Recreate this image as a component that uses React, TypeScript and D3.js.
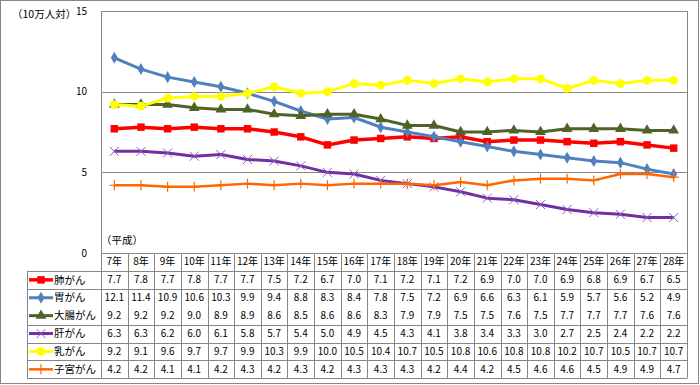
import * as d3 from 'd3'

const YEARS = ['7年', '8年', '9年', '10年', '11年', '12年', '13年', '14年', '15年', '16年', '17年', '18年', '19年', '20年', '21年', '22年', '23年', '24年', '25年', '26年', '27年', '28年']

const LUNG = [7.7, 7.8, 7.7, 7.8, 7.7, 7.7, 7.5, 7.2, 6.7, 7.0, 7.1, 7.2, 7.1, 7.2, 6.9, 7.0, 7.0, 6.9, 6.8, 6.9, 6.7, 6.5]
const STOMACH = [12.1, 11.4, 10.9, 10.6, 10.3, 9.9, 9.4, 8.8, 8.3, 8.4, 7.8, 7.5, 7.2, 6.9, 6.6, 6.3, 6.1, 5.9, 5.7, 5.6, 5.2, 4.9]
const COLON = [9.2, 9.2, 9.2, 9.0, 8.9, 8.9, 8.6, 8.5, 8.6, 8.6, 8.3, 7.9, 7.9, 7.5, 7.5, 7.6, 7.5, 7.7, 7.7, 7.7, 7.6, 7.6]
const LIVER = [6.3, 6.3, 6.2, 6.0, 6.1, 5.8, 5.7, 5.4, 5.0, 4.9, 4.5, 4.3, 4.1, 3.8, 3.4, 3.3, 3.0, 2.7, 2.5, 2.4, 2.2, 2.2]
const BREAST = [9.2, 9.1, 9.6, 9.7, 9.7, 9.9, 10.3, 9.9, 10.0, 10.5, 10.4, 10.7, 10.5, 10.8, 10.6, 10.8, 10.8, 10.2, 10.7, 10.5, 10.7, 10.7]
const UTERUS = [4.2, 4.2, 4.1, 4.1, 4.2, 4.3, 4.2, 4.3, 4.2, 4.3, 4.3, 4.3, 4.2, 4.4, 4.2, 4.5, 4.6, 4.6, 4.5, 4.9, 4.9, 4.7]

const Y_TICKS = [0, 5, 10, 15]

type Marker = 'square' | 'diamond' | 'triangle' | 'x' | 'circle' | 'plus'

const SERIES: { name: string; values: number[]; color: string; markColor: string; width: number; marker: Marker }[] = [
  { name: '肺がん', values: LUNG, color: '#FF0000', markColor: '#FF0000', width: 3.5, marker: 'square' },
  { name: '胃がん', values: STOMACH, color: '#4F81BD', markColor: '#4F81BD', width: 3, marker: 'diamond' },
  { name: '大腸がん', values: COLON, color: '#4F6228', markColor: '#4F6228', width: 3, marker: 'triangle' },
  { name: '肝がん', values: LIVER, color: '#7030A0', markColor: '#8B5CC8', width: 3, marker: 'x' },
  { name: '乳がん', values: BREAST, color: '#FFFF00', markColor: '#FFFF00', width: 3, marker: 'circle' },
  { name: '子宮がん', values: UTERUS, color: '#FF6600', markColor: '#FF6600', width: 2.5, marker: 'plus' },
]

const W = 700
const H = 385
const LEFT = 101
const RIGHT = 687
const TOP = 11
const BOTTOM = 253
const LEG_LEFT = 27
const ROW_H = 17.9
const GRID = '#868686'
const FONT = "'Noto Sans CJK JP', 'Noto Sans', sans-serif"

function MarkerShape({ kind, x, y, color }: { kind: Marker; x: number; y: number; color: string }) {
  if (kind === 'x') {
    const r = 4.5
    return (
      <path d={`M${x - r},${y - r}L${x + r},${y + r}M${x - r},${y + r}L${x + r},${y - r}`} stroke={color} strokeWidth={1} fill="none" />
    )
  }
  if (kind === 'plus') {
    const r = 5
    return (
      <path d={`M${x},${y - r}L${x},${y + r}M${x - r},${y}L${x + r},${y}`} stroke={color} strokeWidth={1.2} fill="none" />
    )
  }
  const type =
    kind === 'square' ? d3.symbolSquare
    : kind === 'diamond' ? d3.symbolDiamond
    : kind === 'triangle' ? d3.symbolTriangle
    : d3.symbolCircle
  const size = kind === 'square' ? 56 : kind === 'diamond' ? 42 : kind === 'triangle' ? 50 : 60
  const d = d3.symbol().type(type).size(size)()
  return <path d={d ?? ''} transform={`translate(${x},${y})`} fill={color} />
}

export default function App() {
  const x = d3.scaleBand<string>().domain(YEARS).range([LEFT, RIGHT]).padding(0)
  const y = d3.scaleLinear().domain([0, 15]).range([BOTTOM, TOP])
  const bw = x.bandwidth()
  const cx = (i: number) => (x(YEARS[i]) ?? 0) + bw / 2

  const rowTop = (r: number) => BOTTOM + ROW_H * r
  const tableBottom = rowTop(SERIES.length + 1)

  return (
    <svg width={W} height={H} style={{ position: 'absolute', left: 0, top: 0, background: '#fff' }} fontFamily={FONT}>
      <rect x={0.5} y={0.5} width={698} height={383} fill="#fff" stroke={GRID} />

      {/* plot area */}
      {Y_TICKS.filter((t) => t > 0 && t < 15).map((t) => (
        <line key={t} x1={LEFT} x2={RIGHT} y1={Math.round(y(t)) + 0.5} y2={Math.round(y(t)) + 0.5} stroke={GRID} />
      ))}
      <line x1={LEFT} x2={RIGHT} y1={TOP + 0.5} y2={TOP + 0.5} stroke={GRID} />
      <line x1={LEFT + 0.5} x2={LEFT + 0.5} y1={TOP} y2={tableBottom} stroke={GRID} />
      <line x1={RIGHT + 0.5} x2={RIGHT + 0.5} y1={TOP} y2={tableBottom} stroke={GRID} />

      {Y_TICKS.map((t) => (
        <text key={t} x={87} y={y(t)} dy="0.35em" textAnchor="end" fontSize={10} fill="#000">{t}</text>
      ))}
      <text x={12} y={18} fontSize={10.5} fill="#000">（10万人対）</text>
      <text x={101} y={244} fontSize={10.5} fill="#000">（平成）</text>

      {SERIES.map((s) => {
        const line = d3.line<number>().x((_, i) => cx(i)).y((v) => y(v))
        return (
          <g key={s.name}>
            <path d={line(s.values) ?? ''} fill="none" stroke={s.color} strokeWidth={s.width} strokeLinejoin="round" />
            {s.values.map((v, i) => (
              <MarkerShape key={i} kind={s.marker} x={cx(i)} y={y(v)} color={s.markColor} />
            ))}
          </g>
        )
      })}

      {/* data table */}
      <line x1={LEFT} x2={RIGHT} y1={BOTTOM + 0.5} y2={BOTTOM + 0.5} stroke={GRID} />
      {d3.range(1, SERIES.length + 2).filter((r) => r !== 3).map((r) => (
        <line key={r} x1={LEG_LEFT} x2={RIGHT} y1={Math.round(rowTop(r)) + 0.5} y2={Math.round(rowTop(r)) + 0.5} stroke={GRID} />
      ))}
      <line x1={LEG_LEFT + 0.5} x2={LEG_LEFT + 0.5} y1={rowTop(1)} y2={tableBottom} stroke={GRID} />
      {YEARS.slice(1).map((yr) => (
        <line key={yr} x1={Math.round(x(yr) ?? 0) + 0.5} x2={Math.round(x(yr) ?? 0) + 0.5} y1={BOTTOM} y2={tableBottom} stroke={GRID} />
      ))}
      {YEARS.map((yr, i) => (
        <text key={yr} x={cx(i)} y={rowTop(0) + ROW_H / 2} dy="0.35em" textAnchor="middle" fontSize={10} fill="#000">{yr}</text>
      ))}
      {SERIES.map((s, r) => {
        const cy = rowTop(r + 1) + ROW_H / 2
        return (
          <g key={s.name}>
            <line x1={29} x2={53} y1={cy} y2={cy} stroke={s.color} strokeWidth={s.width} />
            <MarkerShape kind={s.marker} x={41} y={cy} color={s.markColor} />
            <text x={54} y={cy} dy="0.35em" fontSize={10.5} fill="#000">{s.name}</text>
            {s.values.map((v, i) => (
              <text key={i} x={cx(i)} y={cy} dy="0.35em" textAnchor="middle" fontSize={10} fill="#000">{v.toFixed(1)}</text>
            ))}
          </g>
        )
      })}
    </svg>
  )
}
